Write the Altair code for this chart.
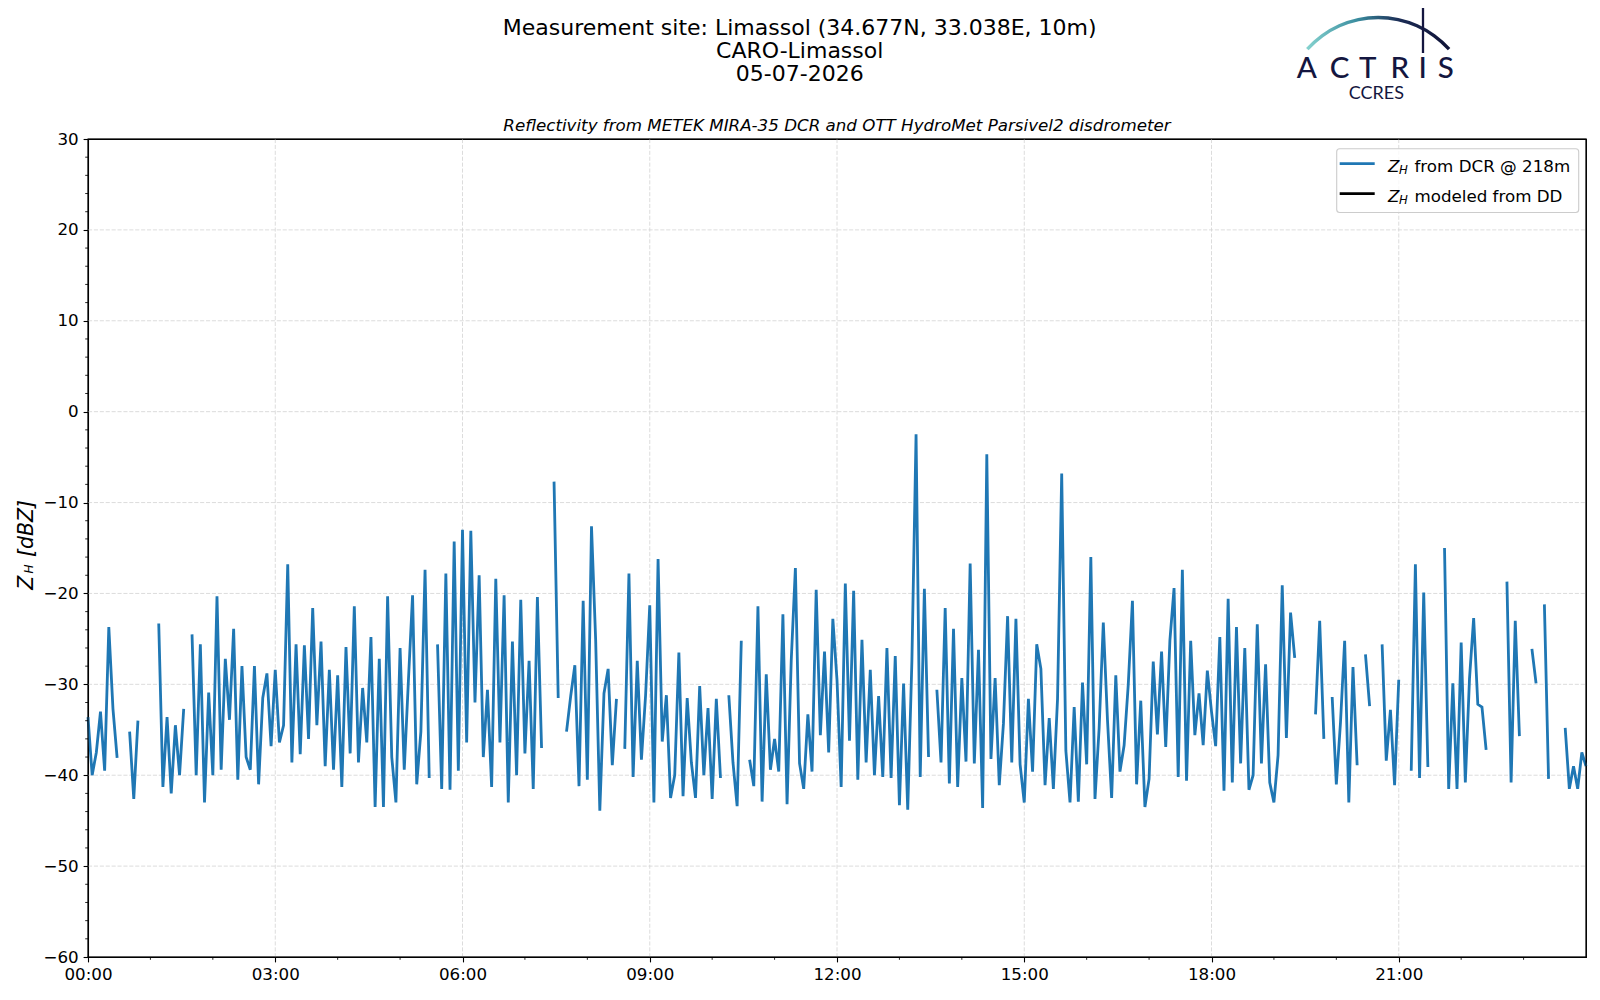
import altair as alt
import pandas as pd

# ---------------- data: Z_H from DCR @ 218m, one value every 4 minutes (None = no data)
H00 = [-33.6, -40.0, -37.5, -33.0, -39.5, -23.7, -32.7, -38.1, None, None, -35.2, -42.6, -34.0, None, None]
H01 = [None, None, -23.3, -41.3, -33.6, -42.0, -34.5, -40.0, -32.7, None, -24.5, -40.0, -25.6, -43.0, -30.9]
H02 = [-40.0, -20.3, -39.4, -27.2, -33.9, -23.9, -40.5, -28.0, -38.0, -39.4, -28.0, -41.0, -31.5, -28.8, -36.8]
H03 = [-28.4, -36.4, -34.5, -16.8, -38.6, -25.6, -37.7, -25.7, -36.0, -21.6, -34.5, -25.3, -39.0, -28.4, -39.4]
H04 = [-29.0, -41.3, -25.9, -37.6, -21.4, -38.6, -30.4, -36.4, -24.8, -43.5, -27.2, -43.5, -20.3, -38.0, -43.0]
H05 = [-26.0, -39.4, -29.6, -20.2, -41.0, -35.2, -17.4, -40.3, None, -25.6, -41.5, -17.8, -41.6, -14.3, -39.5]
H06 = [-13.0, -36.4, -13.1, -32.0, -18.0, -38.0, -30.6, -41.3, -18.4, -36.4, -20.2, -43.0, -25.3, -40.0, -20.7]
H07 = [-37.6, -27.4, -41.5, -20.4, -37.0, None, None, -7.7, -31.5, None, -35.2, -31.3, -27.9, -41.2, -20.8]
H08 = [-40.5, -12.6, -25.1, -43.9, -31.0, -28.3, -38.9, -31.6, None, -37.1, -17.8, -40.2, -27.4, -38.3, -31.2]
H09 = [-21.3, -43.0, -16.2, -36.3, -31.2, -42.5, -40.0, -26.5, -42.3, -31.5, -38.6, -42.5, -30.2, -40.0, -32.6]
H10 = [-42.6, -31.6, -40.3, None, -31.2, -38.6, -43.4, -25.2, None, -38.3, -41.2, -21.4, -42.9, -28.9, -39.4]
H11 = [-36.0, -39.6, -22.3, -43.2, -27.4, -17.2, -38.7, -41.5, -33.3, -39.6, -19.6, -35.6, -26.4, -37.5, -22.8]
H12 = [-29.5, -41.3, -18.9, -36.2, -19.7, -40.5, -25.1, -38.6, -28.4, -40.0, -31.3, -40.2, -26.0, -40.3, -26.9]
H13 = [-43.3, -29.9, -43.8, -27.4, -2.5, -40.2, -19.5, -38.0, None, -30.6, -38.6, -21.6, -40.9, -23.9, -41.3]
H14 = [-29.3, -38.5, -16.7, -38.7, -26.2, -43.6, -4.7, -38.2, -29.3, -41.1, -34.3, -22.5, -38.6, -22.8, -38.8]
H15 = [-43.0, -31.6, -39.6, -25.6, -28.3, -41.1, -33.7, -41.5, -31.6, -6.8, -37.3, -43.0, -32.5, -42.9, -29.8]
H16 = [-38.8, -16.0, -42.6, -34.8, -23.2, -33.9, -42.5, -29.0, -39.6, -36.7, -30.0, -20.8, -41.0, -31.8, -43.5]
H17 = [-40.4, -27.5, -35.5, -26.4, -36.9, -25.2, -19.4, -40.2, -17.4, -40.6, -25.2, -35.6, -31.0, -36.7, -28.5]
H18 = [-33.0, -36.8, -24.8, -41.7, -20.6, -40.8, -23.7, -38.7, -26.0, -41.6, -40.0, -23.4, -38.7, -27.8, -40.8]
H19 = [-43.0, -37.8, -19.1, -35.9, -22.1, -27.1, None, None, None, None, -33.3, -23.0, -36.0, None, -31.4]
H20 = [-41.0, -34.2, -25.2, -43.0, -28.1, -38.9, None, -26.7, -32.4, None, None, -25.6, -38.4, -32.8, -41.1]
H21 = [-29.5, None, None, -39.5, -16.8, -40.3, -19.9, -39.1, None, None, None, -15.0, -41.5, -29.9, -41.5]
H22 = [-25.4, -40.8, -29.4, -22.7, -32.2, -32.5, -37.2, None, None, None, None, -18.7, -40.8, -23.0, -35.7]
H23 = [None, None, -26.1, -29.9, None, -21.2, -40.4, None, None, None, -34.8, -41.5, -39.0, -41.5, -37.5, -39.0]

ZH_DCR = (H00 + H01 + H02 + H03 + H04 + H05 + H06 + H07 + H08 + H09 + H10 + H11 +
          H12 + H13 + H14 + H15 + H16 + H17 + H18 + H19 + H20 + H21 + H22 + H23)
STEP_MIN = 4
HOURS = [i * STEP_MIN / 60.0 for i in range(len(ZH_DCR))]

X_TICKS = [0, 3, 6, 9, 12, 15, 18, 21]
X_GRID = [3, 6, 9, 12, 15, 18, 21]
X_MINOR = [h for h in range(1, 24) if h % 3 != 0]
Y_TICKS = [-60, -50, -40, -30, -20, -10, 0, 10, 20, 30]
Y_GRID = [-50, -40, -30, -20, -10, 0, 10, 20]
Y_MINOR = [v for v in range(-58, 30, 2) if v % 10 != 0]

TITLE_LINES = ["Measurement site: Limassol (34.677N, 33.038E, 10m)", "CARO-Limassol", "05-07-2026"]
SUBTITLE = "Reflectivity from METEK MIRA-35 DCR and OTT HydroMet Parsivel2 disdrometer"
LEGEND_LABELS = ["from DCR @ 218m", "modeled from DD"]
LEGEND_COLORS = ["#1f77b4", "#000000"]

df = pd.DataFrame({"hour": HOURS, "zh": ZH_DCR})
DUMMY = pd.DataFrame({"d": [0]})

W, H = 1498, 818
FONT = "DejaVu Sans"
NAVY = "#141640"
GRID_COLOR = "#d3d3d3"
GRID_DASH = [4.1, 1.8]
LINE_W = 2.8

x_enc = alt.X("hour:Q",
              scale=alt.Scale(domain=[0, 24], nice=False, zero=False),
              axis=alt.Axis(values=X_TICKS, title=None, grid=False, labelFlush=False,
                            labelExpr="(datum.value < 10 ? '0' : '') + datum.value + ':00'"))
y_enc = alt.Y("zh:Q",
              scale=alt.Scale(domain=[-60, 30], nice=False, zero=False),
              axis=alt.Axis(values=Y_TICKS, title=None, grid=False, labelFlush=False,
                            labelExpr="replace(datum.label, '-', '\u2212')"))

# dashed grid (interior lines only, so the frame stays solid)
xgrid = alt.Chart(pd.DataFrame({"hour": X_GRID})).mark_rule(
    color=GRID_COLOR, strokeWidth=0.8, strokeDash=GRID_DASH).encode(
    x=x_enc, y=alt.value(0), y2=alt.value(H))
ygrid = alt.Chart(pd.DataFrame({"zh": Y_GRID})).mark_rule(
    color=GRID_COLOR, strokeWidth=0.8, strokeDash=GRID_DASH).encode(
    y=y_enc, x=alt.value(0), x2=alt.value(W))

line = alt.Chart(df).mark_line(color="#1f77b4", strokeWidth=LINE_W,
                               invalid="break-paths-show-domains").encode(x=x_enc, y=y_enc)

xminor = alt.Chart(pd.DataFrame({"hour": X_MINOR})).mark_rule(color="black", strokeWidth=0.85).encode(
    x=x_enc, y=alt.value(H), y2=alt.value(H + 2.8))
yminor = alt.Chart(pd.DataFrame({"zh": Y_MINOR})).mark_rule(color="black", strokeWidth=0.85).encode(
    y=y_enc, x=alt.value(0), x2=alt.value(-2.8))


def txt(s, x, y, size, **kw):
    props = dict(text=s, fontSize=size, font=FONT, color="black")
    props.update(kw)
    return alt.Chart(DUMMY).mark_text(**props).encode(x=alt.value(x), y=alt.value(y))


def hrule(x, x2, y, color="black", width=1.1):
    return alt.Chart(DUMMY).mark_rule(color=color, strokeWidth=width).encode(
        x=alt.value(x), x2=alt.value(x2), y=alt.value(y))


def vrule(x, y, y2, color="black", width=1.1):
    return alt.Chart(DUMMY).mark_rule(color=color, strokeWidth=width).encode(
        x=alt.value(x), y=alt.value(y), y2=alt.value(y2))


layers = [xgrid, ygrid, line, xminor, yminor]

# solid frame
layers.append(hrule(-0.5, W + 0.5, 0))
layers.append(hrule(-0.5, W + 0.5, H))
layers.append(vrule(0, 0, H))
layers.append(vrule(W, 0, H))

# titles
layers.append(txt(TITLE_LINES[0], 711.7, -111.2, 22.0))
layers.append(txt(TITLE_LINES[1], 711.7, -88.2, 22.0))
layers.append(txt(TITLE_LINES[2], 711.7, -64.6, 22.0))
layers.append(txt(SUBTITLE, 749, -13.3, 16.7, fontStyle="italic"))

# y-axis label  Z_H [dBZ]
layers.append(txt("Z", -55.5, 450.7, 20.5, angle=270, align="left", baseline="alphabetic", fontStyle="italic"))
layers.append(txt("H", -55.5, 434.5, 12.0, angle=270, align="left", baseline="alphabetic", fontStyle="italic"))
layers.append(txt("[dBZ]", -55.5, 418.0, 20.5, angle=270, align="left", baseline="alphabetic", fontStyle="italic"))

# legend
legend_box = alt.Chart(DUMMY).mark_rect(fill="white", fillOpacity=0.8, stroke="#cccccc", strokeWidth=1.1,
                                        cornerRadius=3).encode(
    x=alt.value(1248.7), x2=alt.value(1490.7), y=alt.value(9.7), y2=alt.value(73.5))
layers.append(legend_box)
for k, (lab, col) in enumerate(zip(LEGEND_LABELS, LEGEND_COLORS)):
    yl = 24.7 + 30 * k
    yb = 32.7 + 30 * k
    layers.append(hrule(1251.7, 1286.7, yl, color=col, width=LINE_W))
    layers.append(txt("Z", 1300, yb, 16.7, align="left", baseline="alphabetic", fontStyle="italic"))
    layers.append(txt("H", 1311, yb + 2.5, 11.7, align="left", baseline="alphabetic", fontStyle="italic"))
    layers.append(txt(lab, 1326.5, yb, 16.7, align="left", baseline="alphabetic"))

# ACTRIS / CCRES logo
arc_grad = alt.Gradient(gradient="linear", x1=0, x2=1, y1=0, y2=0,
                        stops=[alt.GradientStop(offset=0, color="#86d3cf"),
                               alt.GradientStop(offset=0.35, color="#3b8ea0"),
                               alt.GradientStop(offset=0.65, color="#1b2c55"),
                               alt.GradientStop(offset=1, color="#0f1236")])
layers.append(alt.Chart(DUMMY).mark_arc(radius=96.8, radius2=93.4, theta=5.442, theta2=7.124,
                                        fill=arc_grad, strokeWidth=0).encode(
    x=alt.value(1290.2), y=alt.value(-26.4)))
layers.append(vrule(1335.0, -137.0, -86.0, color=NAVY, width=2.3))
for letter, lx in zip("ACTRIS", [1218.7, 1251.7, 1279.7, 1311.7, 1334.7, 1357.7]):
    layers.append(txt(letter, lx, -61.0, 29.5, font="Lato", color=NAVY, baseline="alphabetic",
                      fontWeight=500))
layers.append(txt("CCRES", 1288.4, -40.3, 18, font="Lato", color=NAVY, baseline="alphabetic"))

chart = alt.layer(*layers).properties(
    width=W, height=H,
    autosize=alt.AutoSizeParams(type="none"),
    padding={"left": 80, "top": 131, "right": 6, "bottom": 32},
).configure_view(
    stroke="black", strokeWidth=1.1
).configure_axis(
    domainColor="black", domainWidth=1.1,
    tickColor="black", tickWidth=1.1, tickSize=4.9,
    labelFont=FONT, labelFontSize=16.7, labelColor="black", labelPadding=4.9,
)

chart.save("out.html", embed_options={"renderer": "svg", "actions": False})
